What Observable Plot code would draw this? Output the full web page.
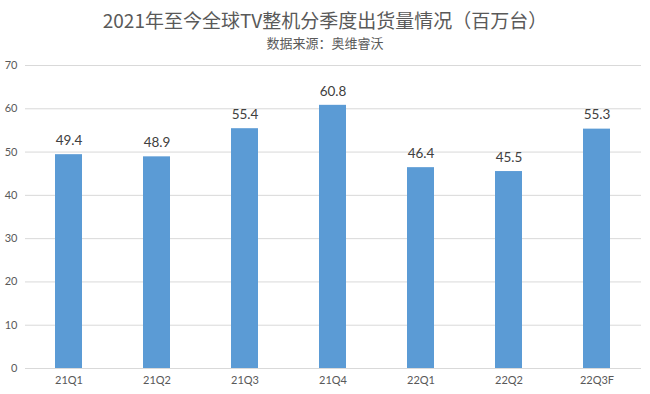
<!DOCTYPE html>
<html>
<head>
<meta charset="utf-8">
<script src="https://cdn.jsdelivr.net/npm/d3@7"></script>
<script src="https://cdn.jsdelivr.net/npm/@observablehq/plot@0.6"></script>
<style>
  body { margin: 0; background: #fff; width: 650px; height: 394px; overflow: hidden; }
  #head { height: 55px; text-align: center; font-family: "Noto Sans CJK SC", sans-serif; }
  #title { padding-top: 8px; font-size: 19px; line-height: 24px; color: #595959; }
  #sub { margin-top: 2px; font-size: 13px; line-height: 18px; color: #595959; }
  svg { display: block; }
</style>
</head>
<body>
<div id="head">
  <div id="title">2021年至今全球TV整机分季度出货量情况（百万台）</div>
  <div id="sub">数据来源：奥维睿沃</div>
</div>
<div id="chart"></div>
<script>
const quarters = ["21Q1", "21Q2", "21Q3", "21Q4", "22Q1", "22Q2", "22Q3F"];
const shipments = [49.4, 48.9, 55.4, 60.8, 46.4, 45.5, 55.3];
const yTicks = [0, 10, 20, 30, 40, 50, 60, 70];

const data = quarters.map((q, i) => ({q, v: shipments[i]}));

const chart = Plot.plot({
  width: 650,
  height: 339,
  marginLeft: 25,
  marginRight: 9,
  marginTop: 10,
  marginBottom: 26,
  style: {fontFamily: "Lato, 'Liberation Sans', sans-serif", background: "#fff"},
  x: {domain: quarters, paddingInner: 0.69, paddingOuter: 0.345, label: null},
  y: {domain: [0, 70], label: null},
  marks: [
    Plot.gridY(yTicks, {stroke: "#d9d9d9", strokeOpacity: 1}),
    Plot.barY(data, {x: "q", y: "v", fill: "#5b9bd5"}),
    Plot.text(data, {x: "q", y: "v", text: d => d.v.toFixed(1), dy: -14, fontSize: 13.5, fill: "#404040"}),
    Plot.axisY(yTicks, {tickSize: 0, tickPadding: 8, fontSize: 11, color: "#595959"}),
    Plot.axisX({tickSize: 0, tickPadding: 8, fontSize: 11, color: "#595959"})
  ]
});
document.getElementById("chart").appendChild(chart);
</script>
</body>
</html>
